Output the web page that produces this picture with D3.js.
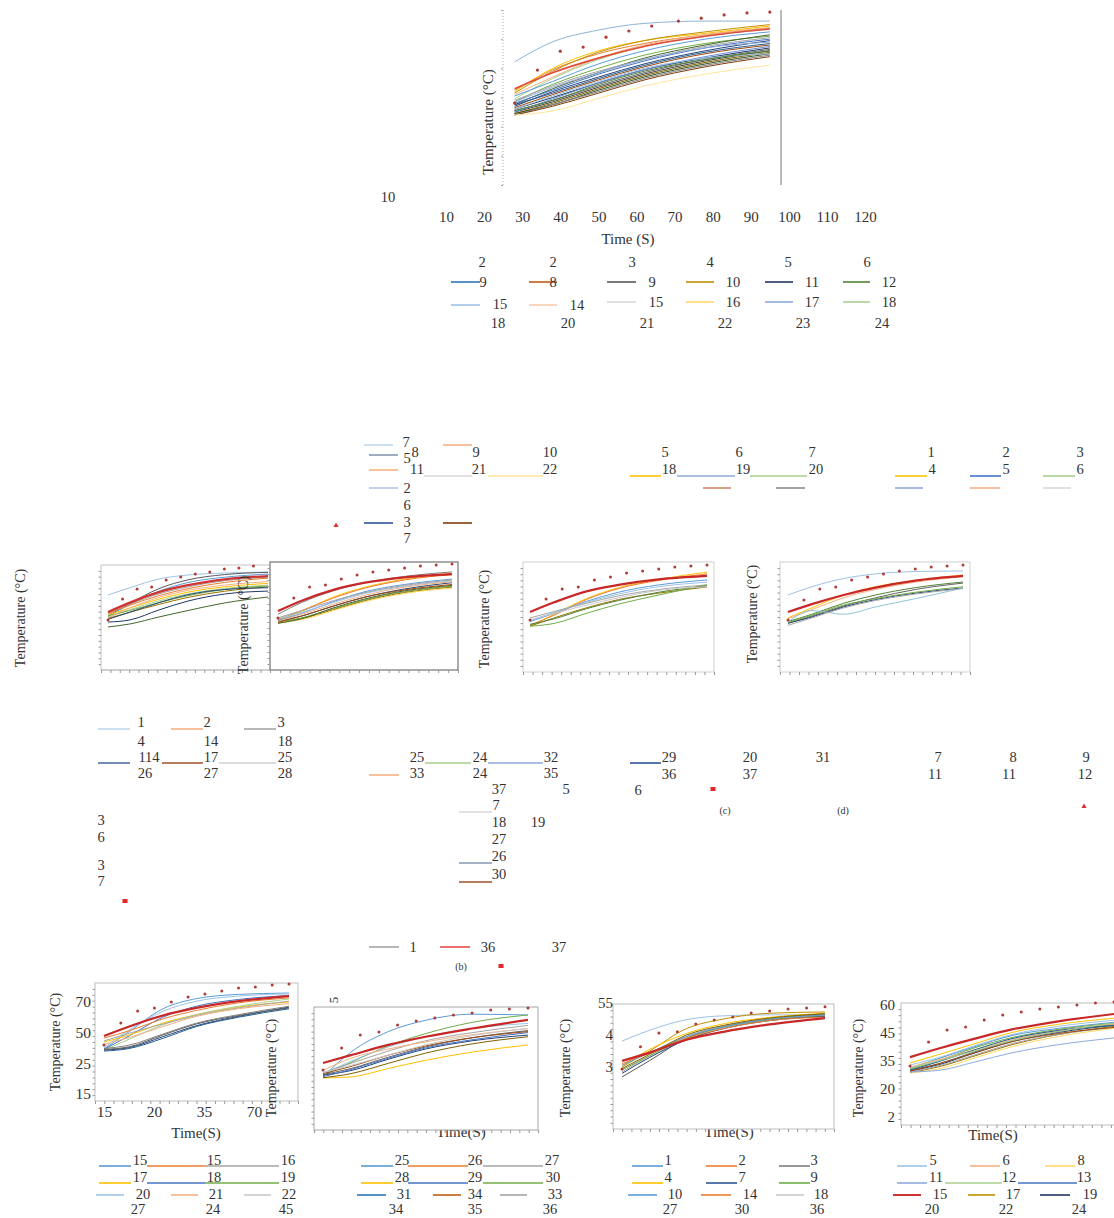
<!DOCTYPE html>
<html><head><meta charset="utf-8">
<script src="https://cdn.jsdelivr.net/npm/d3@7"></script>
<style>body{margin:0;background:#fff}svg{display:block}</style>
</head><body>
<script>
// ================= DATA =================
// top panel (time axis in seconds)
const topTicks = [10,20,30,40,50,60,70,80,90,100,110,120];
const topLineTimes = [28,38,50,62,78,95];
const topDotTimes = [28,34,40,46,52,58,64,71,77,83,89,95];
const topDots = [48.1,59.4,65.9,67.3,70.7,72.8,74.5,76.2,77.2,78.3,79.0,79.3];
const seriesTop = [
 [53.0,58.5,63.5,67.5,71.0,73.5],[52.5,59.5,65.0,68.5,71.5,73.8],[52.0,60.0,66.0,69.5,72.0,74.5],
 [51.5,59.0,65.5,69.5,72.5,75.0],[51.0,57.0,63.5,68.0,71.5,74.0],[49.5,56.5,63.0,67.5,71.0,73.5],
 [50.5,55.5,61.5,66.0,70.0,72.5],[48.5,54.5,60.0,64.5,68.5,71.0],[47.5,53.0,58.5,63.5,68.0,71.5],
 [48.0,52.5,58.0,62.5,67.0,70.0],[47.0,52.0,57.0,61.5,66.0,69.5],[49.0,54.0,59.0,63.0,67.5,70.5],
 [48.5,53.5,58.5,63.0,67.0,69.0],[47.5,51.5,56.5,61.0,65.5,68.5],[46.5,51.0,56.0,60.5,65.0,68.0],
 [45.5,49.0,54.0,58.5,63.0,66.5],[45.0,48.5,53.5,58.0,62.5,66.0],[44.5,48.0,53.0,57.5,62.0,65.5],
 [46.0,50.0,55.0,59.5,63.5,67.0],[44.5,47.5,52.5,57.0,61.5,65.0],[45.0,49.5,55.0,59.5,64.0,67.5],
 [46.0,50.5,55.5,60.0,63.5,65.0],[44.0,47.5,52.0,56.5,61.0,64.5],[45.5,49.0,54.5,59.0,63.0,66.0],
 [44.0,47.0,51.5,56.0,60.5,64.0],[44.0,45.4,49.7,53.9,58.0,61.1],[62.2,69.1,73.1,75.4,76.2,76.2]
];
const colorsTop = ["#E04B3A","#ED7D31","#FFC000","#BF9000","#F4B183","#A9D18E","#5B9BD5","#70AD47","#43682B",
 "#4472C4","#264478","#A5A5A5","#8FAADC","#255E91","#9E480E","#636363","#404040","#7F6000","#1F3864",
 "#375623","#698ED0","#9DC3E6","#7F7F7F","#548235","#843C0C","#FFE699","#8EB4D9"];

// sub-panels share the same sample times
const lineTimes = [0,15,35,55,80,110];
const dotTimes = [0,10,20,30,40,50,60,70,80,90,100,110];
const dotTimesP1 = [0,10,20,30,40,50,60,70,80,90,100];

const dotsP1 = [48.6,60.6,66.3,67.4,71.4,73.1,74.9,76.0,77.7,78.3,79.4];
const seriesP1 = [
 [53.1,58.5,64.5,68.5,71.8,73.7],[62.9,67.0,72.0,74.3,75.4,76.0],[51.0,58.0,66.5,71.5,74.5,75.8],
 [50.5,57.5,65.0,70.0,73.0,74.8],[52.0,57.5,63.5,67.5,71.0,73.0],[52.5,57.0,62.5,66.5,70.0,72.5],
 [51.5,55.5,60.5,64.5,67.5,69.5],[50.0,54.5,59.5,63.5,66.5,68.5],[49.5,53.0,57.5,61.5,65.0,67.5],
 [51.0,54.0,58.5,62.5,66.0,68.0],[49.0,53.0,58.5,63.0,66.0,67.0],[47.4,48.6,54.3,59.4,63.4,65.1],
 [44.6,46.3,50.3,54.0,58.3,61.7],[50.0,55.5,61.5,65.5,68.5,70.5]
];
const colorsP1 = ["#D03535","#9DC3E6","#595959","#5B9BD5","#A5A5A5","#ED7D31","#FFC000","#A9D18E","#997300","#70AD47","#264478","#1F3864","#43682B","#F4B183"];

const dotsP2 = [48.9,60.0,66.1,67.2,70.6,72.8,74.4,75.6,76.7,77.8,78.3,78.9];
const seriesP2 = [
 [52.8,58.5,64.5,68.5,71.5,73.3],[51.0,57.5,64.0,68.5,72.0,74.5],[47.5,52.5,60.5,66.0,70.5,73.8],
 [48.0,53.0,60.0,65.5,70.0,73.0],[47.5,51.5,58.0,63.5,67.5,70.5],[48.5,52.0,57.5,62.5,66.5,69.5],
 [49.0,53.0,58.5,63.0,67.0,70.0],[47.0,50.0,55.5,60.5,65.0,68.5],[46.5,49.0,54.0,59.0,63.5,66.5],
 [46.0,48.5,53.5,58.5,63.0,66.0],[46.5,48.0,53.0,58.0,62.5,65.5],[46.0,48.5,54.5,59.5,64.0,67.0],
 [47.0,51.0,56.5,61.5,66.0,69.0],[46.5,50.0,55.5,60.5,64.5,67.5]
];
const colorsP2 = ["#C82828","#7F7F7F","#FFC000","#ED7D31","#5B9BD5","#9DC3E6","#A5A5A5","#264478","#70AD47","#997300","#FFD966","#43682B","#F4B183","#9E480E"];

const dotsP3 = [48.4,59.8,65.3,66.4,70.2,71.8,74.0,75.1,76.2,77.3,77.8,78.4];
const seriesP3 = [
 [52.7,58.0,64.0,67.5,70.5,72.4],[45.0,51.5,60.0,66.0,70.5,74.5],[45.5,51.0,59.5,65.5,70.0,73.5],
 [47.5,52.0,58.5,63.5,67.5,70.2],[48.0,52.5,58.0,62.5,66.5,69.0],[49.5,53.0,57.5,61.5,65.0,67.5],
 [45.0,49.5,55.0,59.5,63.0,66.4],[45.0,46.5,52.0,57.0,62.0,67.5],[46.0,49.0,54.5,59.0,63.5,67.0],
 [48.5,52.0,56.5,60.5,64.5,66.5]
];
const colorsP3 = ["#C82828","#FFC000","#ED7D31","#5B9BD5","#9DC3E6","#A5A5A5","#997300","#70AD47","#548235","#C9C9C9"];

const dotsP4 = [48.4,59.3,65.3,66.4,70.2,71.8,73.5,75.1,76.2,77.3,77.8,78.4];
const seriesP4 = [
 [52.7,57.0,62.0,66.0,69.8,72.4],[62.0,66.5,71.0,73.5,74.8,75.1],[49.5,55.0,62.0,66.5,70.0,72.9],
 [49.0,54.0,60.5,65.0,69.0,72.0],[47.5,51.5,57.5,62.0,66.0,69.1],[46.5,50.5,56.0,60.5,65.0,68.5],
 [46.7,50.0,55.5,59.5,63.0,65.8],[47.0,51.0,56.5,60.0,63.5,66.5],[47.3,53.5,51.5,55.5,60.0,65.8],
 [45.5,49.5,55.0,59.0,62.5,65.5]
];
const colorsP4 = ["#C82828","#9DC3E6","#FFC000","#F4B183","#548235","#636363","#264478","#70AD47","#8FC3D9","#A5A5A5"];

const p5YLabels = ["70","50","25","15"];
const p5XTicks = ["15","20","35","70"];
const dotsP5 = [44.6,57.6,64.7,66.5,70.0,73.0,74.7,76.5,78.3,78.9,80.0,80.6];
const seriesP5 = [
 [49.9,55.5,62.0,66.5,70.5,73.5],[42.2,52.5,66.0,72.0,74.5,75.3],[43.0,53.5,64.5,70.5,73.5,74.8],
 [42.0,50.0,61.0,67.5,71.5,73.8],[48.7,53.0,60.0,65.0,69.5,72.4],[46.3,50.5,57.5,62.5,67.0,70.0],
 [41.6,48.0,56.5,62.5,67.5,71.8],[47.0,51.5,57.0,62.0,66.5,70.5],[45.0,49.0,55.5,61.5,66.0,69.0],
 [41.6,43.0,49.5,56.0,61.5,67.0],[42.0,43.5,50.5,57.0,62.0,66.5],[41.0,42.5,48.5,55.5,61.0,66.0],
 [42.5,44.5,51.0,57.5,62.5,67.5]
];
const colorsP5 = ["#C82828","#5B9BD5","#9DC3E6","#4472C4","#ED7D31","#FFC000","#A9D18E","#A5A5A5","#F4B183","#264478","#595959","#255E91","#7F7F7F"];

const dotsP6 = [49.3,60.0,66.3,67.8,71.2,73.2,74.6,76.1,77.1,78.5,79.0,79.5];
const seriesP6 = [
 [52.7,56.5,61.5,65.5,69.5,73.7],[45.9,58.0,68.0,73.5,76.5,76.1],[46.5,53.0,61.0,67.0,72.5,76.1],
 [47.5,53.5,60.5,65.5,69.5,72.0],[48.0,52.5,58.5,63.5,67.5,71.0],[49.0,55.0,59.5,63.0,66.5,69.5],
 [46.8,49.0,54.5,59.5,63.5,66.3],[47.0,50.0,55.5,60.5,65.0,68.5],[46.0,49.5,55.0,60.0,64.0,67.5],
 [47.5,51.0,56.5,61.0,65.0,68.0],[45.4,45.9,50.0,54.0,58.0,61.5],[45.5,47.5,52.5,57.5,62.0,65.5],
 [48.0,51.5,56.5,61.5,66.0,69.5]
];
const colorsP6 = ["#C82828","#5B9BD5","#70AD47","#9DC3E6","#A5A5A5","#F4B183","#264478","#636363","#4472C4","#9E480E","#FFC000","#7F6000","#C9C9C9"];

const p7YTicks = [55,45,35];
const p7YLabels = ["55","4","3"];
const dotsP7 = [34.4,41.3,45.6,46.0,48.4,49.7,50.6,51.9,52.5,53.1,53.4,53.8];
const seriesP7 = [
 [36.9,39.5,43.5,46.0,48.3,50.3],[43.1,46.5,49.8,51.0,51.3,51.3],[35.0,40.0,47.0,50.0,51.8,52.2],
 [35.5,40.5,45.5,48.5,50.5,51.8],[31.9,37.0,44.0,47.5,50.0,51.6],[33.5,38.5,44.5,47.8,50.0,51.5],
 [34.1,38.5,44.0,47.5,49.8,51.0],[33.0,38.0,43.5,47.0,49.5,50.8],[35.5,39.5,44.5,47.5,50.0,51.2],
 [36.0,39.5,44.0,47.0,49.5,50.6],[34.5,39.0,45.0,48.0,50.3,51.6]
];
const colorsP7 = ["#C82828","#9DC3E6","#BF9000","#FFC000","#595959","#A5A5A5","#70AD47","#264478","#5B9BD5","#ED7D31","#7F6000"];

const p8YLabels = ["60","45","35","20","2"];
const dotsP8 = [49.0,60.8,66.7,68.2,71.6,74.1,75.6,77.1,78.0,79.0,80.0,80.5];
const seriesP8 = [
 [53.4,57.5,62.5,67.0,71.0,74.6],[50.5,54.5,60.0,65.5,69.5,72.5],[49.5,53.0,59.0,64.5,68.5,71.5],
 [48.0,52.5,58.5,64.0,67.5,70.5],[47.5,51.5,58.0,63.0,67.0,70.0],[46.5,49.5,55.5,61.0,65.5,69.0],
 [47.0,50.0,56.0,61.5,66.0,69.5],[45.8,48.5,54.0,59.5,64.5,68.5],[45.6,47.5,53.0,58.5,63.5,67.5],
 [48.5,52.0,57.0,62.0,66.5,69.5],[46.0,49.0,54.5,60.0,64.5,68.0],[46.1,46.8,51.0,55.5,59.5,62.8],
 [47.0,51.0,57.0,62.5,66.5,69.0],[46.5,50.0,55.5,61.0,65.0,68.0],[48.0,51.5,56.5,61.5,66.0,70.0]
];
const colorsP8 = ["#C82828","#FFC000","#9DC3E6","#5B9BD5","#70AD47","#264478","#636363","#997300","#FFD966","#F4B183","#A5A5A5","#8FAADC","#255E91","#9E480E","#A9D18E"];

// legend texts [label, x, y]
const legendLabels = [
 ["2",482,262],["2",553,262],["3",632,262],["4",710,262],["5",788,262],["6",867,262],
 ["9",483,282],["8",553,282],["9",652,282],["10",733,282],["11",812,282],["12",889,282],
 ["15",500,304],["14",577,305],["15",656,302],["16",733,302],["17",812,302],["18",889,302],
 ["18",498,323],["20",568,323],["21",647,323],["22",725,323],["23",803,323],["24",882,323],
 ["10",388,197],
 ["7",406,442],["5",407,458],["8",415,452],["9",476,452],["10",550,452],["11",417,469],["21",479,469],["22",550,469],
 ["2",407,488],["6",407,505],["3",407,522],["7",407,538],
 ["5",665,452],["6",739,452],["7",812,452],["18",669,469],["19",743,469],["20",816,469],
 ["1",931,452],["2",1006,452],["3",1080,452],["4",932,469],["5",1006,469],["6",1080,469],
 ["1",141,722],["2",207,722],["3",281,722],["4",141,741],["14",211,741],["18",285,741],
 ["114",149,757],["17",211,757],["25",285,757],["26",145,773],["27",211,773],["28",285,773],
 ["3",101,820],["6",101,837],["3",101,865],["7",101,881],
 ["25",417,757],["24",480,757],["32",551,757],["33",417,773],["24",480,773],["35",551,773],
 ["37",499,789],["5",566,789],["6",638,790],["7",496,805],["18",499,822],["19",538,822],
 ["27",499,839],["26",499,856],["30",499,874],["1",413,947],["36",488,947],["37",559,947],
 ["29",669,757],["36",669,774],["20",750,757],["37",750,774],["31",823,757],
 ["7",938,757],["8",1013,757],["9",1086,757],["11",935,774],["11",1009,774],["12",1085,774],
 ["15",140,1160],["15",214,1160],["16",288,1160],["17",140,1177],["18",214,1177],["19",288,1177],
 ["20",143,1194],["21",216,1194],["22",289,1194],["27",138,1209],["24",213,1209],["45",286,1209],
 ["25",402,1160],["26",475,1160],["27",552,1160],["28",402,1177],["29",475,1177],["30",553,1177],
 ["31",404,1194],["34",475,1194],["33",555,1194],["34",396,1209],["35",475,1209],["36",550,1209],
 ["1",668,1160],["2",742,1160],["3",814,1160],["4",668,1177],["7",742,1177],["9",814,1177],
 ["10",675,1194],["14",750,1194],["18",821,1194],["27",670,1209],["30",742,1209],["36",817,1209],
 ["5",933,1160],["6",1006,1160],["8",1081,1160],["11",936,1177],["12",1009,1177],["13",1084,1177],
 ["15",940,1194],["17",1013,1194],["19",1090,1194],["20",932,1209],["22",1006,1209],["24",1079,1209]
];
// legend keys [x1, x2, y, colour]
const legendKeys = [
 [451,480,282,"#2E75B6"],[529,557,282,"#C55A11"],[607,636,282,"#595959"],[686,714,282,"#BF9000"],[765,793,282,"#203864"],[843,870,282,"#548235"],
 [451,480,305,"#9DC3E6"],[529,557,305,"#F8CBAD"],[607,636,302,"#D9D9D9"],[686,714,302,"#FFD966"],[765,793,302,"#8FAADC"],[843,870,302,"#A9D18E"],
 [364,393,445,"#BDD7EE"],[369,398,455,"#8497B0"],[443,472,445,"#F4B183"],[369,398,470,"#F4B183"],[424,472,476,"#D9D9D9"],[488,543,476,"#FFE699"],
 [369,398,488,"#B4C7E7"],[364,393,523,"#2F5597"],[443,472,523,"#843C0C"],
 [630,661,476,"#FFC000"],[677,735,476,"#8FAADC"],[750,807,476,"#A9D18E"],[703,731,488,"#D6876C"],[776,805,488,"#8C8C8C"],
 [895,927,476,"#FFC000"],[970,1001,476,"#4472C4"],[1043,1075,476,"#A9D18E"],[895,923,488,"#8EA9DB"],[970,1000,488,"#F4B183"],[1043,1071,488,"#D9D9D9"],
 [98,130,729,"#BDD7EE"],[171,203,729,"#F4B183"],[244,276,729,"#A5A5A5"],[98,130,763,"#4F71A0"],[162,203,763,"#A0522D"],[219,276,763,"#D0D0D0"],
 [425,471,763,"#A9D18E"],[488,543,763,"#8FAADC"],[369,399,775,"#F4B183"],[459,492,812,"#D9D9D9"],[459,492,863,"#8497B0"],[459,492,882,"#A0522D"],
 [369,399,947,"#A5A5A5"],[440,470,947,"#E84C4C"],[630,661,763,"#2F5597"],
 [99,131,1166,"#5B9BD5"],[147,205,1166,"#ED7D31"],[205,279,1166,"#A5A5A5"],[99,131,1183,"#FFC000"],[147,205,1183,"#4472C4"],[205,279,1183,"#70AD47"],
 [96,124,1195,"#9DC3E6"],[171,198,1195,"#F4B183"],[244,271,1195,"#C9C9C9"],
 [361,393,1166,"#5B9BD5"],[408,468,1166,"#ED7D31"],[483,543,1166,"#A5A5A5"],[361,393,1183,"#FFC000"],[408,468,1183,"#4472C4"],[483,543,1183,"#70AD47"],
 [357,386,1195,"#2E75B6"],[433,461,1195,"#C55A11"],[500,527,1195,"#A5A5A5"],
 [632,663,1166,"#5B9BD5"],[706,737,1166,"#ED7D31"],[779,810,1166,"#7F7F7F"],[632,663,1183,"#FFC000"],[706,737,1183,"#2F5597"],[779,810,1183,"#70AD47"],
 [628,657,1195,"#5B9BD5"],[701,731,1195,"#ED7D31"],[776,804,1195,"#C9C9C9"],
 [897,927,1166,"#9DC3E6"],[970,1000,1166,"#F4B183"],[1045,1075,1166,"#FFD966"],[897,927,1183,"#8FAADC"],[945,1002,1183,"#A9D18E"],[1018,1077,1183,"#4472C4"],
 [893,921,1195,"#C00000"],[968,995,1195,"#BF9000"],[1040,1070,1195,"#203864"]
];
const captions = [["(b)",461,966],["(c)",725,810],["(d)",843,810]];

// ================= DRAWING =================
const FONT = "'Liberation Serif','DejaVu Serif',serif";
const svg = d3.select("body").append("svg").attr("width",1114).attr("height",1218)
  .style("font-family",FONT);

function txt(s,x,y,size,opt={}){
  const t = svg.append("text").attr("x",x).attr("y",y).text(s)
    .attr("font-size",size).attr("fill",opt.fill||"#333")
    .attr("text-anchor",opt.anchor||"middle").attr("dominant-baseline","central");
  if(opt.rot) t.attr("transform",`rotate(${opt.rot},${x},${y})`);
  return t;
}

// time labels that sit partly behind the panel boxes (drawn first)
txt("Time(S)",461,1132,15);
txt("Time(S)",729,1132,15);
txt("Time(S)",993,1135,15);

const panels = [
 {s:seriesP1,c:colorsP1,d:dotsP1,dt:dotTimesP1,box:[101,565,270,670],lx:[108,268],yd:[20,80],yr:[670,565],frame:"open",tk:[18,18]},
 {s:seriesP2,c:colorsP2,d:dotsP2,dt:dotTimes,box:[270,562,458,670],lx:[278,452],yd:[20,80],yr:[670,562],stroke:"#7f7f7f",sw:1.3,tk:[18,19]},
 {s:seriesP3,c:colorsP3,d:dotsP3,dt:dotTimes,box:[523,562,714,672],lx:[530,707],yd:[20,80],yr:[672,562],stroke:"#cfcfcf",tk:[18,20]},
 {s:seriesP4,c:colorsP4,d:dotsP4,dt:dotTimes,box:[780,562,970,672],lx:[788,963],yd:[20,80],yr:[672,562],stroke:"#cfcfcf",tk:[18,20]},
 {s:seriesP5,c:colorsP5,d:dotsP5,dt:dotTimes,box:[95,983,298,1101],lx:[104,289],yd:[15,70],yr:[1095,1002],stroke:"#bdbdbd",tk:[20,22]},
 {s:seriesP6,c:colorsP6,d:dotsP6,dt:dotTimes,box:[314,1007,538,1130],lx:[323,528],yd:[20,80],yr:[1130,1007],stroke:"#a6a6a6",tk:[20,24]},
 {s:seriesP7,c:colorsP7,d:dotsP7,dt:dotTimes,box:[613,1004,834,1129],lx:[622,825],yd:[35,55],yr:[1067,1003],stroke:"#bdbdbd",tk:[20,24]},
 {s:seriesP8,c:colorsP8,d:dotsP8,dt:dotTimes,box:[901,1003,1130,1125],lx:[910,1114],yd:[20,80],yr:[1125,1003],stroke:"#bdbdbd",tk:[20,24]}
];

function frame(p){
  const [x0,y0,x1,y1]=p.box;
  const g=svg.append("g");
  if(p.frame==="open"){
    g.append("path").attr("d",`M${x1},${y0}H${x0}V${y1}`).attr("fill","none").attr("stroke","#c4c4c4");
    g.append("line").attr("x1",x0).attr("x2",x1).attr("y1",y1).attr("y2",y1).attr("stroke","#a0a0a0");
  } else {
    g.append("rect").attr("x",x0).attr("y",y0).attr("width",x1-x0).attr("height",y1-y0)
     .attr("fill","#fff").attr("stroke",p.stroke).attr("stroke-width",p.sw||1);
  }
  const ty=d3.scaleLinear().domain([0,p.tk[0]]).range([y1,y0]);
  const tx=d3.scaleLinear().domain([0,p.tk[1]]).range([x0,x1]);
  const ay=g.append("g").attr("transform",`translate(${x0},0)`)
    .call(d3.axisLeft(ty).tickValues(d3.range(1,p.tk[0])).tickSize(2.5).tickFormat(""));
  const ax=g.append("g").attr("transform",`translate(0,${y1})`)
    .call(d3.axisBottom(tx).tickValues(d3.range(0,p.tk[1]+1)).tickSize(3).tickFormat(""));
  [ay,ax].forEach(a=>{a.select(".domain").remove();a.selectAll("line").attr("stroke","#9a9a9a");});
}

function series(p,times,xs,ys,redW,dotR){
  const line=d3.line().x((d,i)=>xs(times[i])).y(d=>ys(d)).curve(d3.curveMonotoneX);
  const g=svg.append("g").attr("fill","none");
  const idx=d3.range(p.s.length).slice(1).concat([0]);
  g.selectAll("path").data(idx).join("path")
    .attr("d",i=>line(p.s[i])).attr("stroke",i=>p.c[i])
    .attr("stroke-width",i=>i===0?redW:1);
  svg.append("g").selectAll("circle").data(p.d).join("circle")
    .attr("cx",(v,i)=>xs(p.dt[i])).attr("cy",v=>ys(v)).attr("r",dotR).attr("fill","#B23A36");
}

// ---- top panel ----
const xTop=d3.scaleLinear().domain([10,110]).range([446,827]);
const yTop=d3.scaleLinear().domain([20,80]).range([185,10]);
svg.append("line").attr("x1",503).attr("x2",503).attr("y1",10).attr("y2",185)
  .attr("stroke","#aaa").attr("stroke-dasharray","1,2");
svg.append("g").attr("transform","translate(503,0)")
  .call(d3.axisLeft(yTop).ticks(8).tickSize(2).tickFormat(""))
  .call(a=>{a.select(".domain").remove();a.selectAll("line").attr("stroke","#aaa");});
svg.append("line").attr("x1",781).attr("x2",781).attr("y1",10).attr("y2",185).attr("stroke","#8c8c8c").attr("stroke-width",1.2);
series({s:seriesTop,c:colorsTop,d:topDots,dt:topDotTimes},topLineTimes,xTop,yTop,1.6,1.6);
svg.append("g").attr("transform","translate(0,211)")
  .call(d3.axisBottom(xTop).tickValues(topTicks).tickSize(0).tickPadding(0))
  .call(a=>{a.select(".domain").remove();a.selectAll("text").attr("font-size",15).attr("fill","#333").attr("font-family",FONT);});
txt("Time (S)",628,239,15);

// ---- sub-panels ----
panels.forEach(p=>{
  frame(p);
  const xs=d3.scaleLinear().domain([0,110]).range(p.lx);
  const ys=d3.scaleLinear().domain(p.yd).range(p.yr);
  series(p,lineTimes,xs,ys,2.2,1.5);
  p.ys=ys;
});

function styleAxis(a,size){
  a.select(".domain").remove();
  a.selectAll("text").attr("font-size",size).attr("fill","#333").attr("font-family",FONT);
}
// P5 ticks
const yP5=d3.scalePoint().domain(p5YLabels).range([1002,1094]);
svg.append("g").attr("transform","translate(95,0)")
  .call(d3.axisLeft(yP5).tickSize(0).tickPadding(4)).call(a=>styleAxis(a,15.5));
const xP5=d3.scalePoint().domain(p5XTicks).range([104,254]);
svg.append("g").attr("transform","translate(0,1106)")
  .call(d3.axisBottom(xP5).tickSize(0).tickPadding(0)).call(a=>styleAxis(a,15.5));
txt("Time(S)",196,1133,15);
// P7 ticks
const yP7=panels[6].ys;
svg.append("g").attr("transform","translate(616,0)")
  .call(d3.axisLeft(yP7).tickValues(p7YTicks).tickSize(0).tickPadding(3).tickFormat((d,i)=>p7YLabels[i]))
  .call(a=>styleAxis(a,15));
// P8 ticks
const yP8=d3.scalePoint().domain(p8YLabels).range([1005,1117]);
svg.append("g").attr("transform","translate(897,0)")
  .call(d3.axisLeft(yP8).tickSize(0).tickPadding(2)).call(a=>styleAxis(a,15));

// axis titles
txt("Temperature (°C)",488,122,15,{rot:-90});
[[20,618],[243,625],[484,619],[752,614],[55,1042],[271,1068],[565,1068],[858,1068]]
 .forEach(([x,y])=>txt("Temperature (°C)",x,y,14,{rot:-90}));
txt("5",333,1000,13,{rot:-90});

// legends
svg.append("g").selectAll("line").data(legendKeys).join("line")
  .attr("x1",d=>d[0]).attr("x2",d=>d[1]).attr("y1",d=>d[2]).attr("y2",d=>d[2])
  .attr("stroke",d=>d[3]).attr("stroke-width",1.6);
legendLabels.forEach(([s,x,y])=>txt(s,x,y,14.5));
captions.forEach(([s,x,y])=>txt(s,x,y,10));
// stray markers
[[125,901],[501,966],[713,789]].forEach(([x,y])=>svg.append("rect").attr("x",x-2.5).attr("y",y-2).attr("width",5).attr("height",4).attr("fill","#E8262A"));
[[336,525],[1084,806]].forEach(([x,y])=>svg.append("path").attr("d",`M${x-2.5},${y+2}L${x},${y-2.5}L${x+2.5},${y+2}Z`).attr("fill","#E8262A"));
</script></body></html>
